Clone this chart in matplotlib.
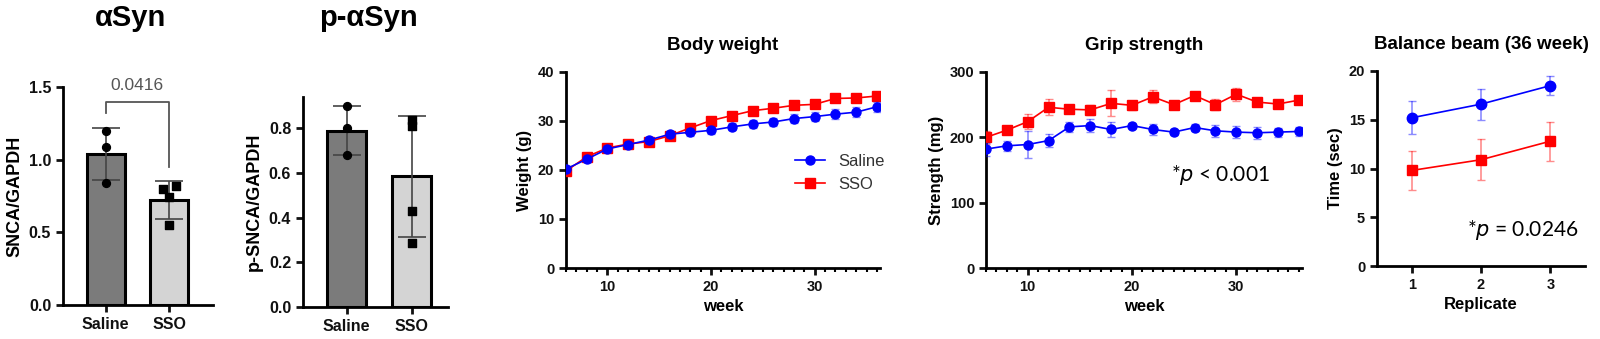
import matplotlib
matplotlib.use("Agg")
import matplotlib.pyplot as plt
from matplotlib.ticker import MultipleLocator

plt.rcParams["font.family"] = ["Liberation Sans", "DejaVu Sans"]

W, H = 1600, 339

# ── Western blot quantification ──────────────────────────────────────────────
groups = ["Saline", "SSO"]

asyn_mean = [1.04, 0.72]
asyn_sd = [0.18, 0.13]
asyn_saline_pts = [1.20, 1.09, 0.84]
asyn_sso_pts = [0.80, 0.82, 0.74, 0.55]
asyn_p = "0.0416"

pasyn_mean = [0.79, 0.585]
pasyn_sd = [0.11, 0.27]
pasyn_saline_pts = [0.90, 0.80, 0.68]
pasyn_sso_pts = [0.835, 0.81, 0.43, 0.288]

# horizontal scatter of the SSO dots (aSyn only, p-aSyn dots sit on centre)
asyn_sso_jitter = [-0.10, 0.11, 0.0, 0.0]
pasyn_sso_jitter = [0.0, 0.0, 0.0, 0.0]

# ── Body weight (g) ──────────────────────────────────────────────────────────
weeks = list(range(6, 37, 2))
bw_saline = [20.2, 22.2, 24.3, 25.2, 26.1, 27.3, 27.7, 28.1,
             28.8, 29.4, 29.8, 30.5, 30.9, 31.4, 31.8, 32.9]
bw_saline_err = [0.5, 0.5, 0.6, 0.6, 0.6, 0.6, 0.7, 0.7,
                 0.7, 0.8, 0.8, 0.9, 0.9, 1.0, 1.0, 1.0]
bw_sso = [19.8, 22.7, 24.5, 25.3, 25.8, 27.0, 28.6, 30.1,
          31.1, 32.1, 32.6, 33.2, 33.4, 34.6, 34.7, 35.1]
bw_sso_err = [0.5, 0.5, 0.5, 0.5, 0.5, 0.5, 0.6, 0.6,
              0.6, 0.6, 0.7, 0.7, 0.7, 0.8, 0.8, 0.8]

# ── Grip strength (mg) ───────────────────────────────────────────────────────
grip_saline = [182, 187, 189, 195, 216, 218, 212, 218,
               212, 208, 215, 210, 208, 207, 208, 209]
grip_saline_err = [10, 8, 20, 10, 8, 10, 11, 4, 8, 4, 5, 9, 9, 9, 7, 7]
grip_sso = [200, 211, 224, 246, 243, 242, 252, 249,
            262, 250, 264, 250, 266, 254, 251, 257]
grip_sso_err = [10, 6, 12, 12, 6, 8, 20, 7, 10, 6, 6, 8, 10, 6, 6, 4]

# ── Balance beam (36 week) ───────────────────────────────────────────────────
replicates = [1, 2, 3]
beam_saline = [15.2, 16.6, 18.5]
beam_saline_err = [1.7, 1.6, 1.0]
beam_sso = [9.8, 10.9, 12.8]
beam_sso_err = [2.0, 2.1, 2.0]

BLUE = "#0000ff"
RED = "#ff0000"


def px_axes(fig, left, right, top, bottom):
    return fig.add_axes([left / W, (H - bottom) / H, (right - left) / W, (bottom - top) / H])


def style(ax, fs=10.5):
    for s in ("top", "right"):
        ax.spines[s].set_visible(False)
    for s in ("left", "bottom"):
        ax.spines[s].set_linewidth(2)
    ax.tick_params(which="major", width=2, length=5, labelsize=fs, colors="#111")
    ax.tick_params(which="minor", width=1.5, length=3)
    for lab in ax.get_xticklabels() + ax.get_yticklabels():
        lab.set_fontweight("bold")


fig = plt.figure(figsize=(W / 100, H / 100), dpi=100)


def bar_panel(ax, means, sds, pts_a, pts_b, jitter, ylabel):
    ax.bar([0, 1], means, width=0.6, color=["#7b7b7b", "#d4d4d4"],
           edgecolor="black", linewidth=2.2, zorder=2)
    ax.errorbar([0, 1], means, yerr=sds, fmt="none", ecolor="#444",
                elinewidth=1.2, capsize=10, capthick=1.2, zorder=3)
    ax.scatter([0] * len(pts_a), pts_a, marker="o", s=32, color="black", zorder=4)
    ax.scatter([1 + j for j in jitter], pts_b, marker="s", s=32, color="black", zorder=4)
    ax.set_xticks([0, 1])
    ax.set_xticklabels(groups)
    ax.set_ylabel(ylabel, fontsize=13, fontweight="bold")
    style(ax, 11.5)


# αSyn
ax1 = px_axes(fig, 63, 213, 87, 305)
ax1.set_ylim(0, 1.5)
ax1.set_yticks([0, 0.5, 1.0, 1.5])
ax1.set_yticklabels(["0.0", "0.5", "1.0", "1.5"])
bar_panel(ax1, asyn_mean, asyn_sd, asyn_saline_pts, asyn_sso_pts, asyn_sso_jitter, "SNCA/GAPDH")
ax1.set_xlim(-0.67, 1.69)
ax1.plot([0, 0, 1, 1], [1.32, 1.40, 1.40, 0.95], color="#555", lw=1.3, clip_on=False)
ax1.text(0.5, 1.46, asyn_p, ha="center", va="bottom", fontsize=12.5, color="#555")
fig.text(130 / W, 1 - 18 / H, "αSyn", ha="center", va="center", fontsize=21, fontweight="bold")

# p-αSyn
ax2 = px_axes(fig, 303, 448, 97, 307)
ax2.set_ylim(0, 0.94)
ax2.set_yticks([0, 0.2, 0.4, 0.6, 0.8])
ax2.set_yticklabels(["0.0", "0.2", "0.4", "0.6", "0.8"])
bar_panel(ax2, pasyn_mean, pasyn_sd, pasyn_saline_pts, pasyn_sso_pts, pasyn_sso_jitter, "p-SNCA/GAPDH")
ax2.set_xlim(-0.67, 1.56)
fig.text(368 / W, 1 - 18 / H, "p-αSyn", ha="center", va="center", fontsize=21, fontweight="bold")


def line_pair(ax, x, ya, ea, yb, eb, ms=6.5):
    r = ax.errorbar(x, yb, yerr=eb, color=RED, marker="s", ms=ms, lw=1.2,
                    ecolor=(1, 0, 0, 0.45), elinewidth=1.2, capsize=3, zorder=3)
    b = ax.errorbar(x, ya, yerr=ea, color=BLUE, marker="o", ms=ms, lw=1.2,
                    ecolor=(0, 0, 1, 0.45), elinewidth=1.2, capsize=3, zorder=4)
    return b[0], r[0]


# Body weight
ax3 = px_axes(fig, 566, 880, 72, 268)
hb, hr = line_pair(ax3, weeks, bw_saline, bw_saline_err, bw_sso, bw_sso_err)
ax3.set_xlim(6, 36.3)
ax3.set_ylim(0, 40)
ax3.xaxis.set_major_locator(MultipleLocator(10))
ax3.xaxis.set_minor_locator(MultipleLocator(1))
ax3.yaxis.set_major_locator(MultipleLocator(10))
style(ax3)
ax3.set_xlabel("week", fontsize=12, fontweight="bold")
ax3.set_ylabel("Weight (g)", fontsize=12, fontweight="bold")
ax3.set_title("Body weight", fontsize=13.5, fontweight="bold", pad=16)
ax3.legend([hb, hr], ["Saline", "SSO"], loc="upper left", bbox_to_anchor=(0.68, 0.66),
           frameon=False, fontsize=12, handlelength=1.8, labelcolor="#333")

# Grip strength
ax4 = px_axes(fig, 986, 1302, 72, 268)
line_pair(ax4, weeks, grip_saline, grip_saline_err, grip_sso, grip_sso_err)
ax4.set_xlim(6, 36.3)
ax4.set_ylim(0, 300)
ax4.xaxis.set_major_locator(MultipleLocator(10))
ax4.xaxis.set_minor_locator(MultipleLocator(1))
ax4.yaxis.set_major_locator(MultipleLocator(100))
style(ax4)
ax4.set_xlabel("week", fontsize=12, fontweight="bold")
ax4.set_ylabel("Strength (mg)", fontsize=12, fontweight="bold")
ax4.set_title("Grip strength", fontsize=13.5, fontweight="bold", pad=16)
ax4.text(28.5, 142, r"*$\it{p}$ < 0.001", ha="center", va="center", fontsize=15,
         family=["Lato", "DejaVu Sans"])

# Balance beam
ax5 = px_axes(fig, 1377, 1585, 71, 266)
line_pair(ax5, replicates, beam_saline, beam_saline_err, beam_sso, beam_sso_err, ms=7.5)
ax5.set_xlim(0.5, 3.5)
ax5.set_ylim(0, 20)
ax5.set_xticks(replicates)
ax5.yaxis.set_major_locator(MultipleLocator(5))
style(ax5)
ax5.set_xlabel("Replicate", fontsize=12, fontweight="bold")
ax5.set_ylabel("Time (sec)", fontsize=12, fontweight="bold")
ax5.set_title("Balance beam (36 week)", fontsize=13.5, fontweight="bold", pad=16)
ax5.text(2.6, 3.7, r"*$\it{p}$ = 0.0246", ha="center", va="center", fontsize=15,
         family=["Lato", "DejaVu Sans"])

fig.savefig("out.png", dpi=100)
